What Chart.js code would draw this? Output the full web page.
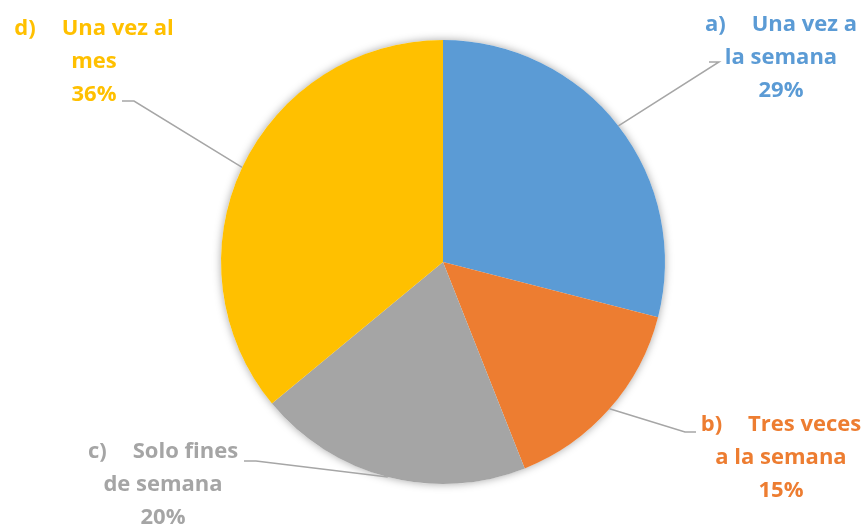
<!DOCTYPE html>
<html>
<head>
<meta charset="utf-8">
<script src="https://cdn.jsdelivr.net/npm/chart.js@4/dist/chart.umd.min.js"></script>
<style>
    html, body { margin: 0; padding: 0; background: #fff; }
    #wrap { width: 864px; height: 527px; }
</style>
</head>
<body>
<div id="wrap"><canvas id="pieChart"></canvas></div>
<script>
const letters = ['a)', 'b)', 'c)', 'd)'];
const categories = [
    ['Una vez a', 'la semana'],
    ['Tres veces', 'a la semana'],
    ['Solo fines', 'de semana'],
    ['Una vez al', 'mes']
];
const shares = [29, 15, 20, 36];
const colors = ['#5B9BD5', '#ED7D31', '#A5A5A5', '#FFC000'];

// where each label block sits and where its leader line bends
const labelSpots = [
    { cx: 781, y: 25, elbow: [719, 62], end: [709, 62] },
    { cx: 781, y: 425, elbow: [685, 432], end: [696, 432] },
    { cx: 163, y: 452, elbow: [256, 461], end: [244, 461] },
    { cx: 94, y: 29, elbow: [134, 101], end: [122, 101] }
];

const FONT = 'bold 22px "Open Sans", sans-serif';
const LINE_H = 33;

// white disc with a soft shadow under the slices
const pieShadow = {
    id: 'pieShadow',
    beforeDatasetsDraw(chart) {
        const arc = chart.getDatasetMeta(0).data[0];
        if (!arc) return;
        const ctx = chart.ctx;
        ctx.save();
        ctx.shadowColor = 'rgba(0,0,0,0.35)';
        ctx.shadowBlur = 9;
        ctx.fillStyle = '#fff';
        ctx.beginPath();
        ctx.arc(arc.x, arc.y, arc.outerRadius, 0, Math.PI * 2);
        ctx.fill();
        ctx.restore();
    }
};

const sliceLabels = {
    id: 'sliceLabels',
    afterDatasetsDraw(chart) {
        const ctx = chart.ctx;
        const meta = chart.getDatasetMeta(0);
        const total = shares.reduce((a, b) => a + b, 0);
        ctx.save();
        meta.data.forEach((arc, i) => {
            const spot = labelSpots[i];
            const mid = (arc.startAngle + arc.endAngle) / 2;
            const px = arc.x + Math.cos(mid) * arc.outerRadius;
            const py = arc.y + Math.sin(mid) * arc.outerRadius;

            // leader line
            ctx.strokeStyle = '#A6A6A6';
            ctx.lineWidth = 1.5;
            ctx.beginPath();
            ctx.moveTo(px, py);
            ctx.lineTo(spot.elbow[0], spot.elbow[1]);
            ctx.lineTo(spot.end[0], spot.end[1]);
            ctx.stroke();

            // text block
            ctx.font = FONT;
            ctx.fillStyle = colors[i];
            ctx.textBaseline = 'middle';
            const lines = categories[i];
            const gap = 26;
            const wLetter = ctx.measureText(letters[i]).width;
            const wFirst = ctx.measureText(lines[0]).width;
            let x0 = spot.cx - (wLetter + gap + wFirst) / 2;
            ctx.textAlign = 'left';
            ctx.fillText(letters[i], x0, spot.y);
            ctx.fillText(lines[0], x0 + wLetter + gap, spot.y);
            ctx.textAlign = 'center';
            for (let k = 1; k < lines.length; k++) {
                ctx.fillText(lines[k], spot.cx, spot.y + LINE_H * k);
            }
            const pct = Math.round(shares[i] / total * 100) + '%';
            ctx.fillText(pct, spot.cx, spot.y + LINE_H * lines.length);
        });
        ctx.restore();
    }
};

const ctx = document.getElementById('pieChart').getContext('2d');
new Chart(ctx, {
    type: 'pie',
    data: {
        labels: categories.map(l => l.join(' ')),
        datasets: [{
            data: shares,
            backgroundColor: colors,
            borderWidth: 0
        }]
    },
    options: {
        responsive: true,
        maintainAspectRatio: false,
        animation: false,
        layout: { padding: { left: 221, right: 199, top: 40, bottom: 43 } },
        plugins: {
            legend: { display: false },
            tooltip: { enabled: false }
        }
    },
    plugins: [pieShadow, sliceLabels]
});
</script>
</body>
</html>
